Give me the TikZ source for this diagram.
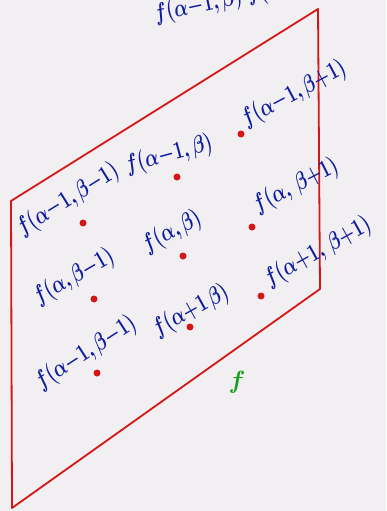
\documentclass[tikz,border=0pt]{standalone}
\usepackage{amsmath}
\usepackage{graphicx}
\definecolor{bgc}{RGB}{241,239,242}
\definecolor{inkred}{RGB}{212,22,22}
\definecolor{inkblue}{RGB}{14,28,158}
\definecolor{inkgreen}{RGB}{26,160,26}
\newcommand{\hw}[1]{\scalebox{0.72}[1]{$#1$}}
\tikzset{
  lbl/.style={text=inkblue, font=\fontsize{23}{25}\selectfont\boldmath, rotate=15, inner sep=0pt},
  pt/.style={circle, fill=inkred, inner sep=0pt, minimum size=7pt},
  edge/.style={draw=inkred, line width=1.8pt, line join=round}
}
\begin{document}
\begin{tikzpicture}[x=1pt,y=-1pt]
\fill[bgc] (0,0) rectangle (386,511);
\useasboundingbox (0,0) rectangle (386,511);
\begin{scope}
\clip (0,0) rectangle (386,511);
\node[lbl, rotate=-3, font=\fontsize{28}{30}\selectfont\boldmath] (top) at (232,-1) {\hw{f(\alpha{-}1,\beta)\;f(\alpha,\beta)}};
\end{scope}
% parallelogram
\coordinate (tl) at (11,201);
\coordinate (tr) at (318,9);
\coordinate (br) at (320,289);
\coordinate (bl) at (12,508);
\draw[edge] (tl) -- (tr) -- (br) -- (bl) -- cycle;
% dots
\node[pt] (d1) at (241,134) {};
\node[pt] (d2) at (177,177) {};
\node[pt] (d3) at (83,223) {};
\node[pt] (d4) at (252,227) {};
\node[pt] (d5) at (183,256) {};
\node[pt] (d6) at (94,299) {};
\node[pt] (d7) at (261,296) {};
\node[pt] (d8) at (190,327) {};
\node[pt] (d9) at (97,373) {};
% labels
\node[lbl, rotate=13] (l1) at (294,94) {\hw{f(\alpha{-}1,\beta{+}1)}};
\node[lbl] (l2) at (169,155) {\hw{f(\alpha{-}1,\beta)}};
\node[lbl, rotate=17] (l3) at (68,200) {\hw{f(\alpha{-}1,\beta{-}1)}};
\node[lbl, rotate=12] (l4) at (296,186) {\hw{f(\alpha,\,\beta{+}1)}};
\node[lbl, rotate=13] (l5) at (172,232) {\hw{f(\alpha,\beta)}};
\node[lbl, rotate=15] (l6) at (74,277) {\hw{f(\alpha,\beta{-}1)}};
\node[lbl, rotate=14] (l7) at (318,252) {\hw{f(\alpha{+}1,\,\beta{+}1)}};
\node[lbl, rotate=14] (l8) at (191,311) {\hw{f(\alpha{+}1\,\beta)}};
\node[lbl, rotate=18] (l9) at (86,353) {\hw{f(\alpha{-}1,\beta{-}1)}};
\node[text=inkgreen, font=\fontsize{32}{34}\selectfont\boldmath, inner sep=0pt] (g) at (237,382) {$f$};
\end{tikzpicture}
\end{document}
